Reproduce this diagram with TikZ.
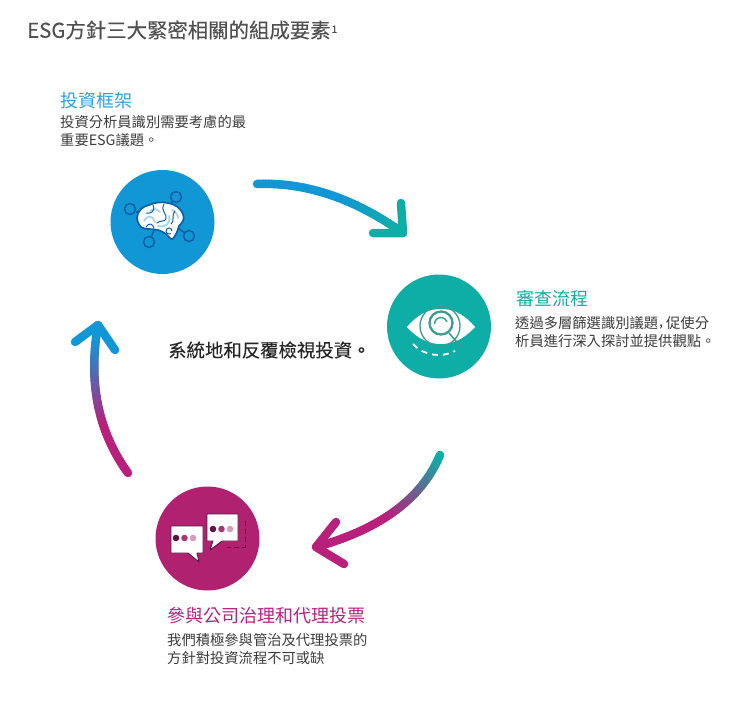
\documentclass[tikz,border=0pt]{standalone}
\usepackage{fontspec}
\setmainfont{Noto Sans CJK TC}
\newfontfamily\heavycjk[FakeBold=0.25]{Noto Sans CJK TC}
\newfontfamily\midcjk[FakeBold=0.12]{Noto Sans CJK TC}
\usetikzlibrary{calc}
\definecolor{esgblue}{HTML}{1297D6}
\definecolor{esgteal}{HTML}{0EAEA6}
\definecolor{esgpink}{HTML}{B0216F}
\definecolor{esgflow}{HTML}{B8207C}
\definecolor{esgtext}{HTML}{3C3C3C}
\definecolor{esgnavy}{HTML}{0F5FA6}
\definecolor{esgfold}{HTML}{A5D6F2}
\definecolor{esgdark}{HTML}{5A1545}
\definecolor{esglens}{HTML}{3C9C92}
\tikzset{
 disc/.style={circle,minimum size=104pt,inner sep=0pt},
 flow/.style={line width=8.5pt,line cap=round,line join=round},
 title/.style={anchor=west,inner sep=0pt,text=esgtext!90!white,font=\heavycjk\fontsize{20.4}{24}\selectfont},
 head/.style={anchor=west,inner sep=0pt,font=\fontsize{18}{22}\selectfont},
 body/.style={anchor=north west,inner sep=0pt,align=left,text=esgtext,font=\fontsize{14.3}{18}\selectfont},
 hub/.style={circle,draw=esgnavy,line width=1.5pt,minimum size=11pt,inner sep=0pt},
 fold/.style={esgfold,line width=1.8pt,line cap=round},
 crease/.style={esgnavy,line width=1pt,line cap=round},
 bubble/.style={fill=white,draw=esgdark,line width=0.9pt,line join=round},
 dot/.style={circle,minimum size=6.6pt,inner sep=0pt}
}
% one curve cut into short pieces, so the colour can run along it
\newcommand{\gradcurve}[7]{
 \foreach \i in {1,...,50}{
  \pgfmathsetmacro{\t}{\i/50}
  \pgfmathsetmacro{\s}{(\i-1)/50}
  \pgfmathsetmacro{\p}{100*min(1,max(0,(\t-#6)/(#7-#6)))}
  \draw[flow,draw={#5!\p!#4}]
   ($($(#1)!\s!(#2)$)!\s!($(#2)!\s!(#3)$)$) -- ($($(#1)!\t!(#2)$)!\t!($(#2)!\t!(#3)$)$);
 }
}
\begin{document}
\begin{tikzpicture}[x=1pt,y=-1pt]
 \useasboundingbox (0,0) rectangle (750,709);

 % texts
 \node[title] (maintitle) at (27,30) {ESG方針三大緊密相關的組成要素\kern1pt\raisebox{5pt}{\fontsize{10}{12}\selectfont 1}};
 \node[head,text=esgblue!90!white] (framehead) at (60,100.5) {投資框架};
 \node[body] (framebody) at (60,115.5) {投資分析員識別需要考慮的最\\重要ESG議題。};
 \node[head,text=esgteal] (reviewhead) at (516,298.5) {審查流程};
 \node[body] (reviewbody) at (515,316.5) {透過多層篩選識別議題\kern1pt\raisebox{2pt}{,}\kern3pt促使分\\析員進行深入探討並提供觀點。};
 \node[head,text=esgflow] (votehead) at (167,615.5) {參與公司治理和代理投票};
 \node[body] (votebody) at (167,633.5) {我們積極參與管治及代理投票的\\方針對投資流程不可或缺};
 \node[anchor=west,inner sep=0pt,text=black!85,font=\midcjk\fontsize{18.4}{22}\selectfont] (midtext) at (168,350) {系統地和反覆檢視投資。};

 % discs
 \node[disc,fill=esgblue] (framedisc) at (162.5,222) {};
 \node[disc,fill=esgteal] (reviewdisc) at (439,326.5) {};
 \node[disc,fill=esgpink] (votedisc) at (207.5,538.5) {};

 % arrows
 \coordinate (a1) at (257,184); \coordinate (a2) at (330,181); \coordinate (a3) at (403,233);
 \coordinate (a4) at (401,203); \coordinate (a5) at (373,233);
 \gradcurve{a1}{a2}{a3}{esgblue}{esgteal}{0.6}{1}
 \draw[flow,esgteal] (a4) -- (a3) -- (a5);

 \coordinate (b1) at (440,455); \coordinate (b2) at (413,520); \coordinate (b3) at (316,547);
 \coordinate (b4) at (336,522); \coordinate (b5) at (344,564);
 \gradcurve{b1}{b2}{b3}{esgteal}{esgflow}{0.05}{0.6}
 \draw[flow,esgflow] (b4) -- (b3) -- (b5);

 \coordinate (c1) at (128,473); \coordinate (c2) at (83,411); \coordinate (c3) at (98,325);
 \coordinate (c4) at (75,342); \coordinate (c5) at (115,350);
 \gradcurve{c1}{c2}{c3}{esgflow}{esgblue}{0.4}{0.95}
 \draw[flow,esgblue] (c4) -- (c3) -- (c5);

 % brain
 \node[hub] (hub1) at (130,209) {};
 \node[hub] (hub2) at (176,197) {};
 \node[hub] (hub3) at (149,242) {};
 \node[hub] (hub4) at (189,236) {};
 \coordinate (brainL) at (142,214); \coordinate (brainT) at (168,207);
 \coordinate (brainB) at (155,228); \coordinate (brainR) at (178,228);
 \draw[esgnavy,line width=1.5pt] (hub1) -- (brainL) (hub2) -- (brainT) (hub3) -- (brainB) (hub4) -- (brainR);
 \draw[fill=white,draw=esgnavy,line width=1.7pt] plot[smooth cycle,tension=0.7] coordinates
  {(137,218) (141,209) (149,205) (158,202.5) (168,203) (177,206.5) (183,214) (183,221) (179,226) (177,232) (172,239) (166,234) (158,230) (149,229) (141,227)};
 \draw[fold] (144,221) .. controls (148,214) and (153,216) .. (155,222);
 \draw[fold] (158,226) .. controls (166,228) and (171,223) .. (169,216);
 \draw[fold] (150,211) .. controls (154,208) and (157,209) .. (160,212);
 \draw[fold] (172,210) .. controls (176,212) and (178,215) .. (178,218);
 \draw[crease] (153,205) .. controls (156,212) and (150,214) .. (146,213);
 \draw[crease] (164,204) .. controls (160,212) and (168,214) .. (166,219) .. controls (165,222) and (160,220) .. (157,223);
 \draw[crease] (175,211) .. controls (171,217) and (175,221) .. (171,224);
 \draw[crease] (146,227) .. controls (149,222) and (153,224) .. (154,228);
 \draw[crease] (172,231) arc (0:300:3pt);

 % eye
 \draw[fill=white,draw=none] (407,327) .. controls (420,312) and (431,309) .. (441,309)
  .. controls (451,309) and (462,312) .. (475,327) .. controls (462,341) and (451,344) .. (441,344)
  .. controls (431,344) and (420,341) .. (407,327) -- cycle;
 \draw[esglens,line width=1.3pt] (440,326) circle (20pt);
 \draw[esglens,line width=2.3pt] (441,323) circle (11.5pt);
 \draw[esglens,line width=1.4pt] (434.5,324) arc (180:20:6.5pt);
 \coordinate (lensfoot) at (449,333); \coordinate (lensend) at (462,348);
 \draw[esglens,line width=1.6pt] (lensfoot) -- (lensend);
 \draw[white,line width=1.8pt,dash pattern=on 6pt off 5pt] (413,344) .. controls (424,356) and (442,358) .. (455,351);

 % bubbles
 \draw[bubble] (171,526) -- (203,526) -- (203,553) -- (197,553) -- (199,562) -- (188,553) -- (171,553) -- cycle;
 \draw[bubble] (207,514) -- (238,514) -- (238,541) -- (222,541) -- (210,550) -- (213,541) -- (207,541) -- cycle;
 \node[dot,fill=esgdark] (d1) at (176,538) {};
 \node[dot,fill=esgpink!75!gray] (d2) at (184.5,538) {};
 \node[dot,fill=esgpink!45!white] (d3) at (193,538) {};
 \node[dot,fill=esgdark] (d4) at (213,529) {};
 \node[dot,fill=esgpink!75!gray] (d5) at (221.5,529) {};
 \node[dot,fill=esgpink!45!white] (d6) at (230,529) {};
 \draw[esgdark,line width=0.7pt,dash pattern=on 5pt off 3pt] (245,521) -- (245,547) -- (227,547);
\end{tikzpicture}
\end{document}
